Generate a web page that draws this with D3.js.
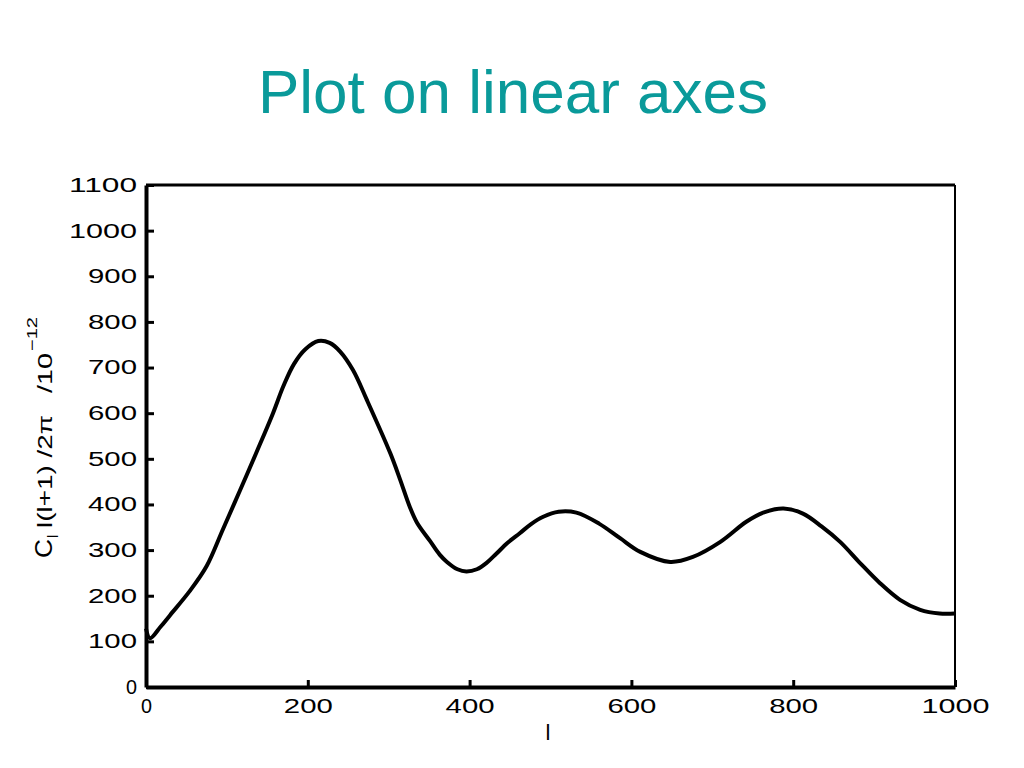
<!DOCTYPE html>
<html>
<head>
<meta charset="utf-8">
<script src="https://cdn.jsdelivr.net/npm/d3@7"></script>
<style>
  html, body { margin: 0; padding: 0; background: #fff; }
  svg { display: block; }
  text { font-family: "Liberation Sans", Arial, Helvetica, sans-serif; }
</style>
</head>
<body>
<svg id="chart" width="1024" height="768"></svg>
<script>
// ---- data ----
const titleText = "Plot on linear axes";
const xTicks = [0, 200, 400, 600, 800, 1000];
const yTicks = [0, 100, 200, 300, 400, 500, 600, 700, 800, 900, 1000, 1100];
const ells = [0, 5, 18, 30, 54, 75, 95, 116, 137, 157, 170, 183, 197, 213, 227, 240, 256, 273, 302, 314, 326, 335, 351, 363, 372, 385, 396, 409, 421, 433, 447, 462, 476, 491, 510, 532, 560, 586, 611, 648, 676, 710, 742, 763, 788, 812, 835, 858, 883, 907, 932, 957, 981, 1000];
const cls  = [128, 107, 132, 158, 210, 265, 345, 430, 516, 600, 660, 708, 740, 758, 754, 735, 694, 629, 512, 455, 395, 360, 320, 290, 274, 258, 253, 258, 272, 292, 316, 337, 357, 373, 384, 382, 358, 326, 296, 274, 285, 318, 362, 382, 391, 380, 352, 318, 271, 228, 191, 169, 161, 161];

const svg = d3.select("#chart");

const x = d3.scaleLinear().domain([0, 1000]).range([146, 955]);
const y = d3.scaleLinear().domain([0, 1100]).range([687, 185]);

// title
svg.append("text")
  .attr("x", 513).attr("y", 113)
  .attr("text-anchor", "middle")
  .attr("font-size", 62)
  .attr("fill", "#0a9a9a")
  .text(titleText);

// frame: top and right
svg.append("line")
  .attr("x1", x(0)).attr("x2", x(1000)).attr("y1", y(1100)).attr("y2", y(1100))
  .attr("stroke", "#000").attr("stroke-width", 3);
svg.append("line")
  .attr("x1", x(1000)).attr("x2", x(1000)).attr("y1", y(1100)).attr("y2", y(0))
  .attr("stroke", "#000").attr("stroke-width", 2);

function styleLabels(g) {
  g.selectAll("text")
    .attr("font-size", 20)
    .attr("fill", "#000")
    .attr("lengthAdjust", "spacingAndGlyphs")
    .attr("textLength", function() { const n = this.textContent.length; return 19 * n - 8; });
}

// left axis
const gy = svg.append("g").attr("transform", `translate(${x(0)},0)`)
  .call(d3.axisLeft(y).tickValues(yTicks).tickFormat(d3.format("d"))
        .tickSizeInner(-8).tickSizeOuter(0).tickPadding(9));
gy.select(".domain").attr("stroke-width", 4);
gy.selectAll(".tick line").attr("stroke-width", 3);
gy.call(styleLabels);

// bottom axis
const gx = svg.append("g").attr("transform", `translate(0,${y(0)})`)
  .call(d3.axisBottom(x).tickValues(xTicks).tickFormat(d3.format("d"))
        .tickSizeInner(-7).tickSizeOuter(0).tickPadding(11));
gx.select(".domain").attr("stroke-width", 4);
gx.selectAll(".tick line").attr("stroke-width", 3);
gx.call(styleLabels);
gx.selectAll("text").attr("font-size", 21);

// curve
const line = d3.line()
  .x((d, i) => x(ells[i]))
  .y((d, i) => y(cls[i]))
  .curve(d3.curveCatmullRom.alpha(0.5));
svg.append("path")
  .datum(cls)
  .attr("d", line)
  .attr("fill", "none")
  .attr("stroke", "#000")
  .attr("stroke-width", 4)
  .attr("stroke-linejoin", "round");

// x label
svg.append("text")
  .attr("x", 548).attr("y", 740)
  .attr("text-anchor", "middle")
  .attr("font-size", 22)
  .text("l");

// y label (rotated)
const yl = svg.append("g").attr("transform", "rotate(-90)");
yl.append("text").attr("x", -558).attr("y", 52).attr("font-size", 23)
  .attr("textLength", 19).attr("lengthAdjust", "spacingAndGlyphs").text("C");
yl.append("text").attr("x", -538).attr("y", 58).attr("font-size", 15).text("l");
yl.append("text").attr("x", -528).attr("y", 52).attr("font-size", 20)
  .attr("textLength", 113).attr("lengthAdjust", "spacingAndGlyphs")
  .attr("xml:space", "preserve").text("l(l+1) /2\u03C0");
yl.append("text").attr("x", -393).attr("y", 52).attr("font-size", 20)
  .attr("textLength", 40).attr("lengthAdjust", "spacingAndGlyphs").text("/10");
yl.append("text").attr("x", -351).attr("y", 37).attr("font-size", 15)
  .attr("textLength", 34).attr("lengthAdjust", "spacingAndGlyphs").text("\u221212");
</script>
</body>
</html>
